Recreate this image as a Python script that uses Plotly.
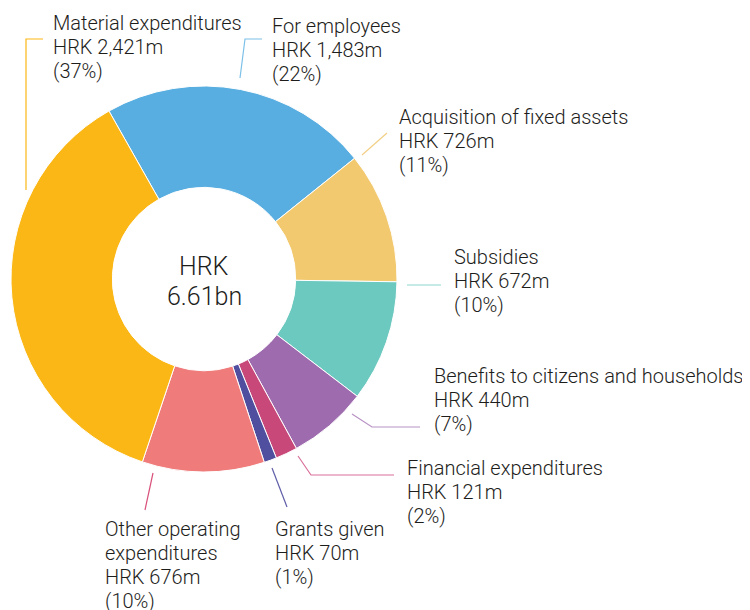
import plotly.graph_objects as go

# ---- data ----
categories = ["For employees", "Acquisition of fixed assets", "Subsidies",
              "Benefits to citizens and households", "Financial expenditures",
              "Grants given", "Other operating expenditures", "Material expenditures"]
values_m = [1483, 726, 672, 440, 121, 70, 676, 2421]
percent_labels = ["22%", "11%", "10%", "7%", "2%", "1%", "10%", "37%"]
amount_labels = ["HRK 1,483m", "HRK 726m", "HRK 672m", "HRK 440m",
                 "HRK 121m", "HRK 70m", "HRK 676m", "HRK 2,421m"]
label_titles = [["For employees"], ["Acquisition of fixed assets"], ["Subsidies"],
                ["Benefits to citizens and households"], ["Financial expenditures"],
                ["Grants given"], ["Other operating", "expenditures"], ["Material expenditures"]]
center_lines = ["HRK", "6.61bn"]

# ---- styles / layout (pixel positions in the page) ----
PAGE_OFF = 8          # default body margin of the html page
W, H = 750 - PAGE_OFF, 610 - PAGE_OFF
colors = ["#58AEE0", "#F2C96F", "#6CC9BF", "#9D6BAE", "#C8487A",
          "#4F4E9F", "#F07B7B", "#FBB715"]
line_colors = ["#7CC0E8", "#F2CF85", "#8ED5CD", "#B892C4", "#D9709A",
               "#5F5EA8", "#D9507A", "#FBB715"]
# label anchor: (left x, first baseline y) in page pixels
label_pos = [(272, 33), (399, 124), (454, 264), (434, 383),
             (407, 475), (275, 536), (105, 536), (53, 30)]
LINE_STEP = 24
# leader line polylines in page pixels
leader_paths = [
    [(240, 78), (245, 39), (262, 39)],
    [(362, 155), (387, 133)],
    [(407, 285), (441, 285)],
    [(352, 414), (372, 427), (420, 427)],
    [(298, 456), (311, 475), (394, 475)],
    [(272, 468), (287, 507)],
    [(153, 473), (145, 510)],
    [(26, 190), (26, 39), (43, 39)],
]
cx, cy, R = 204, 279, 193
FONT = "Roboto"
FS = 20
CFS = 25
TEXT_COLOR = "#1d1d1b"


def px(x):
    return (x - PAGE_OFF) / W


def py(y):
    return 1 - (y - PAGE_OFF) / H


fig = go.Figure()
fig.add_trace(go.Pie(
    labels=categories,
    values=values_m,
    sort=False,
    direction="clockwise",
    rotation=-29.5,
    hole=0.475,
    textinfo="none",
    hoverinfo="label+value+percent",
    marker=dict(colors=colors, line=dict(color="white", width=1)),
    domain=dict(x=[px(cx - R), px(cx + R)], y=[py(cy + R), py(cy - R)]),
    showlegend=False,
))

annotations = []


def add_line(text, x, baseline, size, anchor="left"):
    annotations.append(dict(
        text=text, x=px(x), y=py(baseline - 0.36 * size), xref="paper", yref="paper",
        xanchor=anchor, yanchor="middle", align=anchor, showarrow=False,
        borderpad=0,
        font=dict(family=FONT, size=size, color=TEXT_COLOR, weight=300),
    ))


for title, amt, pct, (lx, ly) in zip(label_titles, amount_labels, percent_labels, label_pos):
    lines = title + [amt, f"({pct})"]
    for i, t in enumerate(lines):
        add_line(t, lx - 1, ly + i * LINE_STEP, FS)

for i, t in enumerate(center_lines):
    add_line(t, cx, 275 + i * 30, CFS, anchor="center")

shapes = []
for path, col in zip(leader_paths, line_colors):
    d = "M " + " L ".join(f"{px(x)},{py(y)}" for x, y in path)
    shapes.append(dict(type="path", path=d, xref="paper", yref="paper",
                       line=dict(color=col, width=1.2)))

fig.update_layout(
    width=W, height=H,
    margin=dict(l=0, r=0, t=0, b=0),
    paper_bgcolor="white", plot_bgcolor="white",
    annotations=annotations, shapes=shapes,
)
fig.write_html("out.html")
